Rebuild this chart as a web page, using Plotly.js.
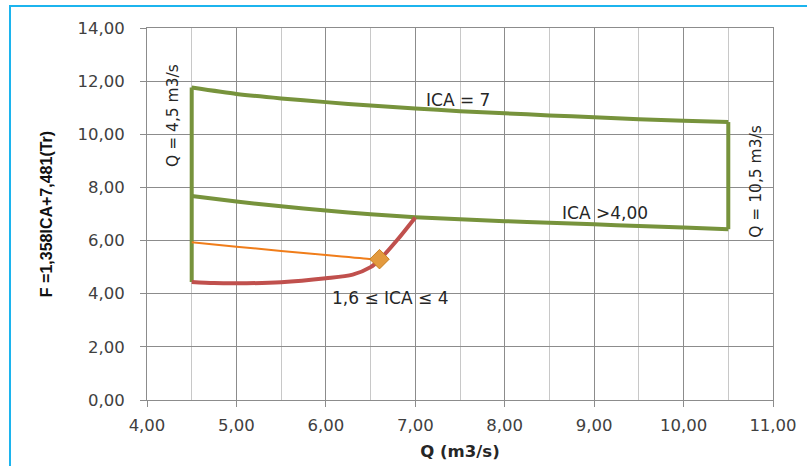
<!DOCTYPE html>
<html>
<head>
<meta charset="utf-8">
<script src="https://cdn.plot.ly/plotly-3.0.1.min.js"></script>
<style>
  html, body { margin: 0; padding: 0; background: #fff; }
  #wrap { position: relative; width: 807px; height: 466px; overflow: hidden; }
  #chart { position: absolute; left: 0; top: 0; width: 807px; height: 466px; }
  #frame { position: absolute; left: 9px; top: 5px; width: 820px; height: 480px;
           border-top: 2px solid #1CB4EE; border-left: 2px solid #1CB4EE; pointer-events: none; }
</style>
</head>
<body>
<div id="wrap">
  <div id="chart"></div>
  <div id="frame"></div>
</div>
<script>
// ICA = 7 curve (upper boundary)
const topQ = [4.5, 5.0, 5.5, 6.0, 6.5, 7.0, 7.5, 8.0, 8.5, 9.0, 9.5, 10.0, 10.5];
const topF = [11.76, 11.52, 11.35, 11.21, 11.08, 10.97, 10.87, 10.79, 10.71, 10.64, 10.57, 10.51, 10.46];

// ICA > 4,00 curve (lower boundary)
const lowQ = [4.5, 5.0, 5.5, 6.0, 6.5, 7.0, 7.5, 8.0, 8.5, 9.0, 9.5, 10.0, 10.5];
const lowF = [7.68, 7.47, 7.29, 7.13, 6.99, 6.88, 6.80, 6.73, 6.67, 6.61, 6.55, 6.49, 6.43];

// Vertical limits Q = 4,5 and Q = 10,5
const leftQ = [4.5, 4.5];
const leftF = [4.44, 11.76];
const rightQ = [10.5, 10.5];
const rightF = [10.46, 6.43];

// 1,6 <= ICA <= 4 curve (red)
const redQ = [4.5, 4.75, 5.0, 5.5, 6.0, 6.3, 6.5, 6.6, 6.8, 7.0];
const redF = [4.44, 4.40, 4.39, 4.43, 4.58, 4.72, 5.00, 5.28, 6.03, 6.87];

// Orange line
const orangeQ = [4.5, 5.0, 5.5, 6.0, 6.5, 6.55];
const orangeF = [5.94, 5.77, 5.61, 5.46, 5.30, 5.26];

// Point (diamond)
const pointQ = [6.6];
const pointF = [5.3];

const green = '#77933C';

const traces = [
  {x: topQ, y: topF, mode: 'lines', line: {color: green, width: 4, shape: 'spline', smoothing: 0.6}},
  {x: lowQ, y: lowF, mode: 'lines', line: {color: green, width: 4, shape: 'spline', smoothing: 0.6}},
  {x: leftQ, y: leftF, mode: 'lines', line: {color: green, width: 4}},
  {x: rightQ, y: rightF, mode: 'lines', line: {color: green, width: 4}},
  {x: orangeQ, y: orangeF, mode: 'lines', line: {color: '#F07D1A', width: 2, shape: 'spline', smoothing: 0.6}},
  {x: redQ, y: redF, mode: 'lines', line: {color: '#C0504D', width: 4, shape: 'spline', smoothing: 0.8}},
  {x: pointQ, y: pointF, mode: 'markers', marker: {symbol: 'diamond', size: 15, color: '#E39A3E', line: {color: '#C98022', width: 1}}}
];

const txtFont = {family: 'DejaVu Sans, Verdana, sans-serif', size: 17, color: '#262626'};
const rotFont = {family: 'DejaVu Sans, Verdana, sans-serif', size: 15.5, color: '#262626'};
const tickFont = {family: 'DejaVu Sans, Verdana, sans-serif', size: 16.5, color: '#404040'};

const layout = {
  width: 807, height: 466,
  margin: {l: 146.7, r: 34.3, t: 28.3, b: 66},
  paper_bgcolor: '#ffffff', plot_bgcolor: '#ffffff',
  showlegend: false,
  separators: ',.',
  font: {family: 'DejaVu Sans, Verdana, sans-serif', size: 15, color: '#404040'},
  xaxis: {
    range: [4, 11], dtick: 1, tick0: 4, tickformat: '.2f',
    showgrid: true, gridcolor: '#8C8C8C', gridwidth: 1,
    minor: {dtick: 0.5, showgrid: true, gridcolor: '#C8C8C8', gridwidth: 1},
    showline: true, linecolor: '#8C8C8C', linewidth: 1, mirror: true,
    ticks: 'outside', ticklen: 6, tickcolor: '#8C8C8C',
    ticklabelstandoff: 4,
    zeroline: false,
    tickfont: tickFont,
    title: {text: 'Q (m3/s)', standoff: 11, font: {family: 'DejaVu Sans, Liberation Sans, sans-serif', size: 16.5, color: '#262626', weight: 'bold'}}
  },
  yaxis: {
    range: [0, 14], dtick: 2, tick0: 0, tickformat: '.2f',
    showgrid: true, gridcolor: '#8C8C8C', gridwidth: 1,
    showline: true, linecolor: '#8C8C8C', linewidth: 1, mirror: true,
    ticks: 'outside', ticklen: 6, tickcolor: '#8C8C8C',
    ticklabelstandoff: 12,
    zeroline: false,
    tickfont: tickFont,
    title: {text: 'F =1,358ICA+7,481(Tr)', standoff: 20, font: {family: 'Liberation Sans Narrow, Liberation Sans, sans-serif', size: 16, color: '#111', weight: 'bold'}}
  },
  annotations: [
    {x: 4.283, y: 10.70, xref: 'x', yref: 'y', text: 'Q = 4,5 m3/s', textangle: -90, showarrow: false, font: rotFont},
    {x: 7.48, y: 11.30, xref: 'x', yref: 'y', text: 'ICA = 7', showarrow: false, font: txtFont},
    {x: 9.125, y: 7.04, xref: 'x', yref: 'y', text: 'ICA >4,00', showarrow: false, font: txtFont},
    {x: 10.81, y: 8.21, xref: 'x', yref: 'y', text: 'Q = 10,5 m3/s', textangle: -90, showarrow: false, font: rotFont},
    {x: 6.72, y: 3.84, xref: 'x', yref: 'y', text: '1,6 ≤ ICA ≤ 4', showarrow: false, font: txtFont}
  ]
};

Plotly.newPlot('chart', traces, layout, {displayModeBar: false, staticPlot: true});
</script>
</body>
</html>
